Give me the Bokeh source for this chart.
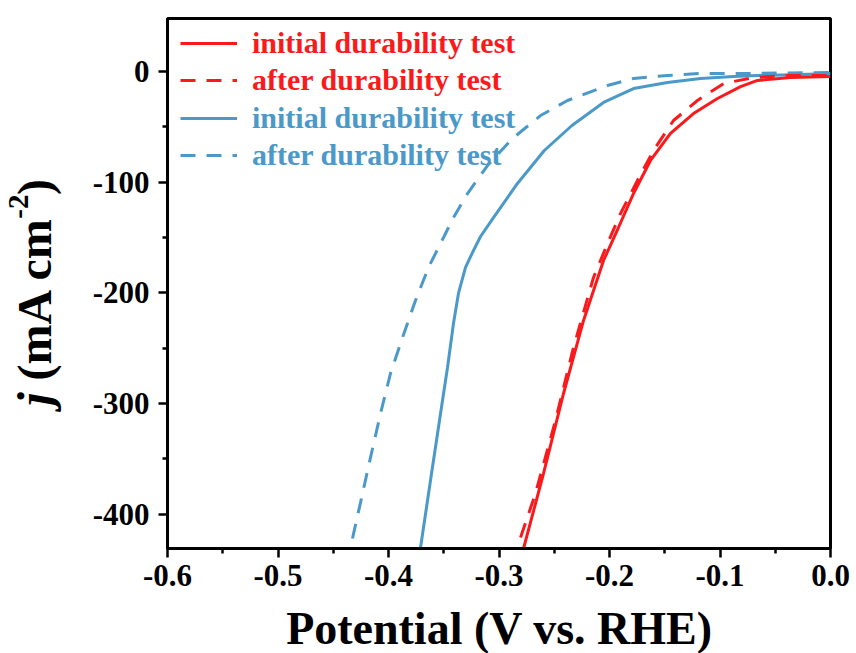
from bokeh.plotting import figure
from bokeh.layouts import column, row
from bokeh.models import (Range1d, Legend, LegendItem, Label, FixedTicker,
                          NumeralTickFormatter, Div)
from bokeh.embed import file_html
from bokeh.resources import INLINE

# ---- data ----
red_init_v = [-0.2778, -0.2597, -0.2416, -0.2235, -0.2054, -0.1919, -0.1783, -0.1629,
              -0.1448, -0.1240, -0.1023, -0.0814, -0.0661, -0.0362, 0.0]
red_init_j = [-431.0, -363.2, -290.9, -224.9, -170.7, -140.9, -110.2, -80.3,
              -55.9, -37.9, -24.3, -13.5, -8.0, -5.3, -4.4]

red_after_v = [-0.2805, -0.2670, -0.2489, -0.2326, -0.2145, -0.2018, -0.1900, -0.1747,
               -0.1602, -0.1421, -0.1204, -0.0968, -0.0697, -0.0362, 0.0]
red_after_j = [-421.1, -381.3, -315.3, -249.3, -186.1, -155.4, -128.2, -98.4,
               -71.3, -44.2, -26.1, -10.8, -5.3, -3.5, -3.5]

blue_init_v = [-0.3710, -0.3620, -0.3529, -0.3466, -0.3412, -0.3367, -0.3303, -0.3240,
               -0.3167, -0.3050, -0.2833, -0.2590, -0.2340, -0.2054, -0.1783, -0.1475,
               -0.1176, -0.0878, -0.0661, -0.0271, 0.0]
blue_init_j = [-430.1, -369.5, -309.0, -267.4, -227.7, -200.5, -177.0, -163.5,
               -149.0, -131.9, -101.1, -71.3, -48.7, -27.9, -15.3, -9.9,
               -6.2, -4.4, -3.5, -2.6, -1.7]

blue_after_v = [-0.4326, -0.4235, -0.4163, -0.4072, -0.3982, -0.3873, -0.3756, -0.3638,
                -0.3502, -0.3412, -0.3285, -0.3104, -0.2878, -0.2624, -0.2380, -0.2018,
                -0.1783, -0.1475, -0.1176, -0.0814, 0.0]
blue_after_j = [-422.0, -381.3, -348.8, -309.0, -272.8, -240.3, -206.9, -177.0,
                -149.9, -131.9, -110.2, -84.9, -60.5, -39.7, -26.1, -12.6,
                -6.2, -3.5, -1.7, -1.7, -0.8]

x_ticks = [-0.6, -0.5, -0.4, -0.3, -0.2, -0.1, 0.0]
x_minor = [-0.55, -0.45, -0.35, -0.25, -0.15, -0.05]
y_ticks = [-400, -300, -200, -100, 0]
y_minor = [-350, -250, -150, -50]

labels = ["initial durability test", "after durability test",
          "initial durability test", "after durability test"]

RED = "#FA1A1C"
BLUE = "#4A99C9"
FONT = "Liberation Serif"

LEFT_W = 66
TOP_H = 600

p = figure(width=856 - LEFT_W, height=TOP_H, output_backend="svg", toolbar_location=None,
           x_range=Range1d(-0.6, 0.0), y_range=Range1d(-431, 48),
           min_border_left=167 - LEFT_W, min_border_right=26, min_border_top=18,
           min_border_bottom=TOP_H - 548)

p.background_fill_color = "white"
p.border_fill_color = "white"
p.outline_line_color = "black"
p.outline_line_width = 3
p.xgrid.visible = False
p.ygrid.visible = False

for ax in (p.xaxis[0], p.yaxis[0]):
    ax.axis_line_width = 3
    ax.axis_line_color = "black"
    ax.major_tick_line_width = 2.5
    ax.minor_tick_line_width = 2.5
    ax.major_tick_in = 0
    ax.major_tick_out = 9
    ax.minor_tick_in = 0
    ax.minor_tick_out = 5
    ax.major_label_text_font = FONT
    ax.major_label_text_font_style = "bold"
    ax.major_label_text_font_size = "31px"
    ax.major_label_text_color = "black"
    ax.axis_label = None

p.xaxis.ticker = FixedTicker(ticks=x_ticks, minor_ticks=x_minor)
p.yaxis.ticker = FixedTicker(ticks=y_ticks, minor_ticks=y_minor)
p.xaxis.formatter = NumeralTickFormatter(format="0.0")
p.yaxis.formatter = NumeralTickFormatter(format="0")
p.xaxis.major_label_standoff = 7
p.yaxis.major_label_standoff = 9

rb_a = p.line(blue_after_v, blue_after_j, line_color=BLUE, line_width=3, line_dash="15 11")
rb_i = p.line(blue_init_v, blue_init_j, line_color=BLUE, line_width=3)
rr_a = p.line(red_after_v, red_after_j, line_color=RED, line_width=3, line_dash="15 11")
rr_i = p.line(red_init_v, red_init_j, line_color=RED, line_width=3)

renderers = [rr_i, rr_a, rb_i, rb_a]
colors = [RED, RED, BLUE, BLUE]
bottoms = [488, 451, 413, 376]
for r, lab, c, b in zip(renderers, labels, colors, bottoms):
    lg = Legend(items=[LegendItem(label=lab, renderers=[r])], location=(13, b),
                padding=0, margin=0, spacing=0, border_line_alpha=0,
                background_fill_alpha=0, glyph_width=57, glyph_height=30,
                label_height=30, label_standoff=15, label_text_font=FONT,
                label_text_font_style="bold", label_text_font_size="30px",
                label_text_color=c, label_text_baseline="middle")
    p.add_layout(lg)

# y axis title: rotated HTML text with italic j and superscript
ytitle_html = (
    '<div style="position:absolute; left:11px; top:179px; display:inline-block; '
    'writing-mode:vertical-rl; transform:rotate(180deg); '
    "font-family:'Liberation Serif'; font-weight:bold; font-size:48px; "
    'line-height:48px; white-space:nowrap; color:black; margin:0; padding:0;">'
    '<i>j</i> (mA cm<span style="font-size:29px; position:relative; left:17px;">-2</span>)'
    '</div>'
)
ydiv = Div(text=ytitle_html, width=LEFT_W, height=TOP_H,
           styles={"position": "relative", "overflow": "visible", "margin": "0", "padding": "0"})

# x axis title
fx = figure(width=856, height=653 - TOP_H, output_backend="svg", toolbar_location=None,
            title=None, x_range=Range1d(0, 856), y_range=Range1d(0, 653 - TOP_H),
            x_axis_location=None, y_axis_location=None,
            min_border_left=0, min_border_right=0, min_border_top=0, min_border_bottom=0)
fx.outline_line_color = None
fx.xgrid.visible = False
fx.ygrid.visible = False
fx.add_layout(Label(x=499, y=25.5, text="Potential (V vs. RHE)", text_font=FONT,
                    text_font_style="bold", text_font_size="46px", text_align="center",
                    text_baseline="middle", text_color="black"))

layout = column(row(ydiv, p), fx)
open("out.html", "w").write(file_html(layout, INLINE))
